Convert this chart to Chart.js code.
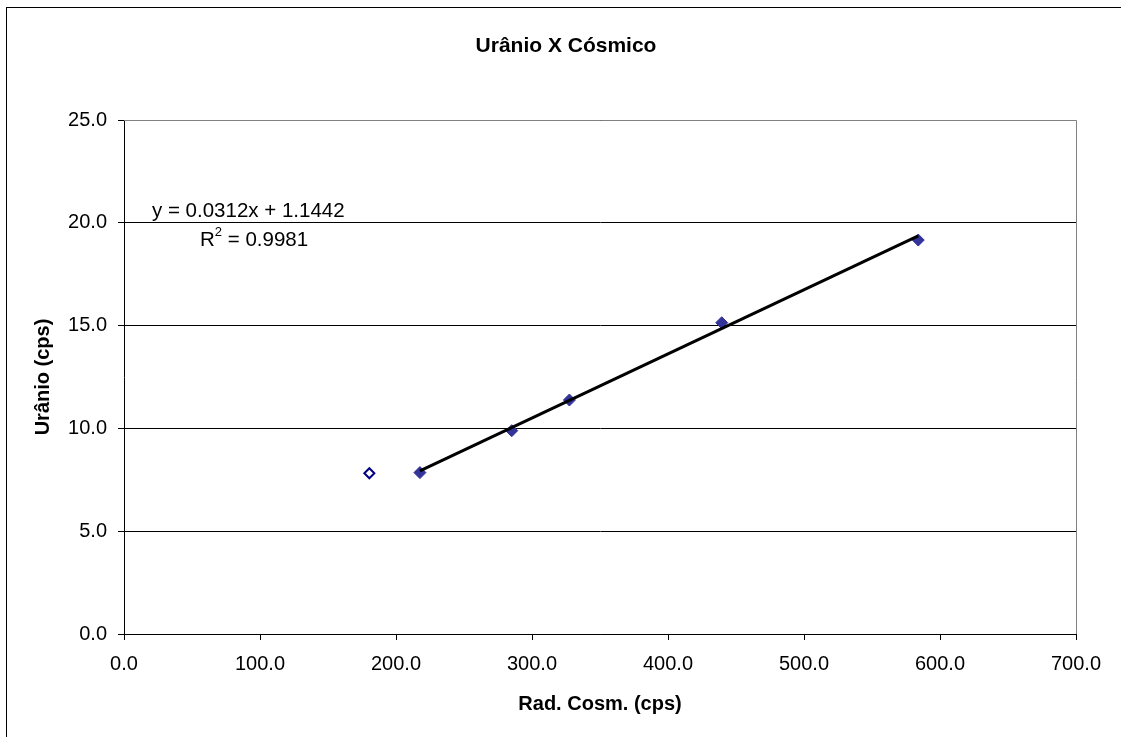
<!DOCTYPE html>
<html lang="pt">
<head>
  <meta charset="UTF-8">
  <title>Urânio X Cósmico</title>
  <script src="https://cdn.jsdelivr.net/npm/chart.js"></script>
  <style>
    body { margin: 0; background: #fff; }
    canvas { display: block; }
  </style>
</head>
<body>
  <canvas id="chart" width="1121" height="737"></canvas>

  <script>
    // data
    const cosmico = [217.6, 285.1, 327.5, 439.5, 584.0];
    const uranio = [7.85, 9.89, 11.38, 15.14, 19.16];
    const outlierX = [180.4];
    const outlierY = [7.82];
    // trendline ends (y = 0.0312x + 1.1442)
    const trendX = [217.6, 584.0];
    const trendY = [7.93, 19.36];
    const equationText = "y = 0.0312x + 1.1442";
    const r2Text = "0.9981";

    const FONT = "'Liberation Sans', Arial, sans-serif";
    const PLOT_LEFT = 124, PLOT_BOTTOM = 634;

    const toPoints = (xs, ys) => xs.map((x, i) => ({ x: x, y: ys[i] }));

    const decorations = {
      id: "decorations",
      beforeDraw(chart) {
        const ctx = chart.ctx;
        ctx.save();
        ctx.fillStyle = "#fff";
        ctx.fillRect(0, 0, chart.width, chart.height);
        ctx.strokeStyle = "#000";
        ctx.lineWidth = 1;
        ctx.strokeRect(6.5, 7.5, chart.width + 10, chart.height + 10);
        ctx.restore();
      },
      afterDatasetsDraw(chart) {
        const ctx = chart.ctx;
        const a = chart.chartArea;
        ctx.save();
        // grey plot area frame (top and right)
        ctx.strokeStyle = "#808080";
        ctx.lineWidth = 1;
        ctx.beginPath();
        ctx.moveTo(a.left, a.top + 0.5);
        ctx.lineTo(a.right + 0.5, a.top + 0.5);
        ctx.lineTo(a.right + 0.5, a.bottom);
        ctx.stroke();

        ctx.fillStyle = "#000";
        ctx.textBaseline = "middle";
        ctx.textAlign = "center";
        ctx.font = "bold 21px " + FONT;
        ctx.fillText("Urânio X Cósmico", 566, 46);
        ctx.font = "bold 20px " + FONT;
        ctx.fillText("Rad. Cosm. (cps)", 600, 704);

        ctx.save();
        ctx.translate(43, 377);
        ctx.rotate(-Math.PI / 2);
        ctx.fillText("Urânio (cps)", 0, 0);
        ctx.restore();

        // trendline label
        ctx.textAlign = "left";
        ctx.font = "20.5px " + FONT;
        ctx.fillText(equationText, 152, 211);
        ctx.fillText("R", 200, 240);
        const rw = ctx.measureText("R").width;
        ctx.font = "13px " + FONT;
        ctx.fillText("2", 200 + rw, 232);
        const sw = ctx.measureText("2").width;
        ctx.font = "20.5px " + FONT;
        ctx.fillText(" = " + r2Text, 200 + rw + sw, 240);
        ctx.restore();
      }
    };

    new Chart(document.getElementById("chart"), {
      type: "scatter",
      data: {
        datasets: [
          {
            type: "line",
            data: toPoints(trendX, trendY),
            borderColor: "#000",
            borderWidth: 3,
            pointRadius: 0,
            fill: false,
            order: 0
          },
          {
            data: toPoints(cosmico, uranio),
            pointStyle: "rectRot",
            pointRadius: 6,
            backgroundColor: "#333399",
            borderColor: "#333399",
            borderWidth: 1,
            order: 1
          },
          {
            data: toPoints(outlierX, outlierY),
            pointStyle: "rectRot",
            pointRadius: 5,
            backgroundColor: "#fff",
            borderColor: "#000080",
            borderWidth: 2,
            order: 1
          }
        ]
      },
      options: {
        responsive: false,
        animation: false,
        layout: { padding: { top: 120, right: 45, left: 0, bottom: 0 } },
        plugins: {
          legend: { display: false },
          tooltip: { enabled: false },
          title: { display: false }
        },
        scales: {
          x: {
            type: "linear",
            min: 0,
            max: 700,
            ticks: {
              stepSize: 100,
              color: "#000",
              font: { family: FONT, size: 20 },
              padding: 12,
              maxRotation: 0,
              callback: v => v.toFixed(1)
            },
            grid: {
              drawOnChartArea: false,
              drawTicks: true,
              tickLength: 6,
              tickColor: "#000"
            },
            border: { display: true, color: "#000", width: 1 },
            afterFit(scale) { scale.height = 737 - PLOT_BOTTOM; }
          },
          y: {
            min: 0,
            max: 25,
            ticks: {
              stepSize: 5,
              color: "#000",
              font: { family: FONT, size: 20 },
              padding: 11,
              callback: v => v.toFixed(1)
            },
            grid: {
              color: "#000",
              lineWidth: 1,
              drawTicks: true,
              tickLength: 6,
              tickColor: "#000"
            },
            border: { display: true, color: "#000", width: 1 },
            afterFit(scale) { scale.width = PLOT_LEFT; }
          }
        }
      },
      plugins: [decorations]
    });
  </script>
</body>
</html>
